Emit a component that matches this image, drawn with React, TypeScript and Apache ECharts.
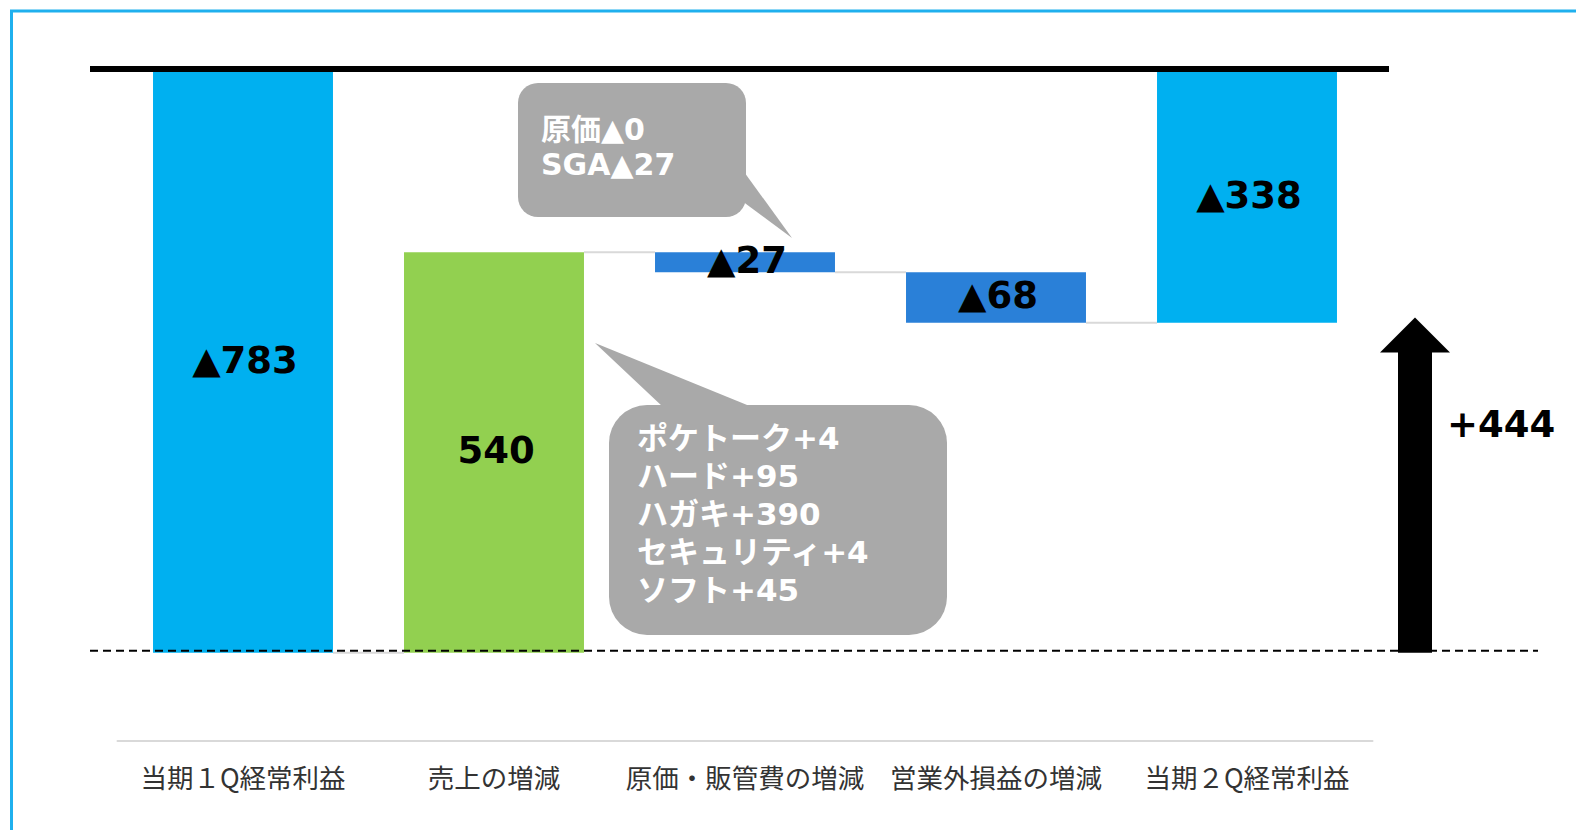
import React, { useEffect, useRef } from "react";
import * as echarts from "echarts";

const categories = ["当期１Q経常利益", "売上の増減", "原価・販管費の増減", "営業外損益の増減", "当期２Q経常利益"];
const barValues = [-783, 540, -27, -68, -338];
const barKinds = ["total", "delta", "delta", "delta", "total"];
const barColors = ["#00B0F0", "#92D050", "#2A80D8", "#2A80D8", "#00B0F0"];
const improvement = 444;
const callout1Lines = ["原価▲0", "SGA▲27"];
const callout2Lines = ["ポケトーク+4", "ハード+95", "ハガキ+390", "セキュリティ+4", "ソフト+45"];

const BAR_RATIO = 0.717;
const LABEL_FONT = "'DejaVu Sans', 'Noto Sans CJK JP', sans-serif";

function buildWaterfall() {
  const base: number[] = [];
  const visible: number[] = [];
  const levels: number[] = [];
  let running = 0;
  barValues.forEach((v, i) => {
    if (barKinds[i] === "total") {
      base.push(0);
      visible.push(v);
      running = v;
    } else {
      const next = running + v;
      const high = Math.max(running, next);
      const low = Math.min(running, next);
      base.push(high);
      visible.push(low - high);
      running = next;
    }
    levels.push(running);
  });
  return { base, visible, levels };
}

export default function App() {
  const ref = useRef<HTMLDivElement>(null);
  useEffect(() => {
    document.body.style.margin = "0";
    const chart = echarts.init(ref.current!, null, { renderer: "svg" });
    const { base, visible, levels } = buildWaterfall();
    const connectorData = levels.slice(0, levels.length - 1).map((lv, i) => [i, lv]);

    chart.setOption({
      animation: false,
      backgroundColor: "#FFFFFF",
      grid: { left: 117.5, right: 203.5, top: 72, bottom: 89, containLabel: false },
      xAxis: {
        type: "category",
        data: categories,
        axisLine: { show: true, onZero: false, lineStyle: { color: "#D9D9D9", width: 2 } },
        axisTick: { show: false },
        axisLabel: {
          interval: 0,
          fontSize: 26.5,
          color: "#333333",
          margin: 22,
          fontFamily: "'Noto Sans CJK JP', sans-serif",
        },
        splitLine: { show: false },
      },
      yAxis: { type: "value", min: -902, max: 0, show: false, splitLine: { show: false } },
      series: [
        {
          type: "bar",
          stack: "wf",
          data: base,
          barWidth: BAR_RATIO * 100 + "%",
          itemStyle: { color: "transparent" },
          silent: true,
        },
        {
          type: "bar",
          stack: "wf",
          barWidth: BAR_RATIO * 100 + "%",
          data: visible.map((v, i) => ({ value: v, itemStyle: { color: barColors[i] } })),
          label: {
            show: true,
            position: "inside",
            fontSize: 37,
            fontWeight: "bold",
            color: "#000000",
            fontFamily: LABEL_FONT,
            offset: [2, -2],
            formatter: (p: any) => {
              const v = barValues[p.dataIndex];
              return v < 0 ? "▲" + Math.abs(v) : String(v);
            },
          },
        },
        {
          type: "custom",
          data: connectorData,
          z: 1,
          silent: true,
          renderItem: (params: any, api: any) => {
            const idx = api.value(0);
            const lv = api.value(1);
            const p0 = api.coord([idx, lv]);
            const p1 = api.coord([idx + 1, lv]);
            const half = (api.size([1, 0])[0] * BAR_RATIO) / 2;
            return {
              type: "line",
              shape: { x1: p0[0] + half, y1: p0[1], x2: p1[0] - half, y2: p0[1] },
              style: { stroke: "#D9D9D9", lineWidth: 2 },
            };
          },
        },
      ],
    });

    const y0 = chart.convertToPixel({ yAxisIndex: 0 }, 0) as number;
    const yStart = chart.convertToPixel({ yAxisIndex: 0 }, barValues[0]) as number;
    const yTip = (chart.convertToPixel({ yAxisIndex: 0 }, barValues[0] + improvement) as number) - 6;

    const arrowCx = 1415;
    const shaftHalf = 17;
    const headHalf = 35;
    const headH = 35;

    chart.setOption({
      graphic: [
        {
          type: "rect",
          shape: { x: 11.5, y: 11, width: 1700, height: 1000 },
          style: { fill: "none", stroke: "#1FB0EE", lineWidth: 3 },
          z: 100,
          silent: true,
        },
        {
          type: "line",
          shape: { x1: 90, y1: y0 - 3, x2: 1389, y2: y0 - 3 },
          style: { stroke: "#000000", lineWidth: 6 },
          z: 100,
        },
        {
          type: "line",
          shape: { x1: 90, y1: yStart - 2, x2: 1538, y2: yStart - 2 },
          style: { stroke: "#000000", lineWidth: 2, lineDash: [8, 5] },
          z: 100,
        },
        {
          type: "polygon",
          shape: {
            points: [
              [arrowCx - shaftHalf, yStart],
              [arrowCx - shaftHalf, yTip + headH],
              [arrowCx - headHalf, yTip + headH],
              [arrowCx, yTip],
              [arrowCx + headHalf, yTip + headH],
              [arrowCx + shaftHalf, yTip + headH],
              [arrowCx + shaftHalf, yStart],
            ],
          },
          style: { fill: "#000000" },
          z: 101,
        },
        {
          type: "text",
          x: 1447,
          y: 424,
          style: {
            text: "+" + improvement,
            fontSize: 37,
            fontWeight: "bold",
            fill: "#000000",
            fontFamily: LABEL_FONT,
            textVerticalAlign: "middle",
          },
          z: 101,
        },
        // callout 1
        {
          type: "polygon",
          shape: { points: [[734, 158], [792, 238], [738, 198]] },
          style: { fill: "#A9A9A9" },
          z: 102,
        },
        {
          type: "rect",
          shape: { x: 518, y: 83, width: 228, height: 134, r: 20 },
          style: { fill: "#A9A9A9" },
          z: 102,
        },
        {
          type: "text",
          x: 541,
          y: 111.5,
          style: {
            text: callout1Lines.join("\n"),
            fontSize: 30,
            lineHeight: 35,
            fontWeight: "bold",
            fill: "#FFFFFF",
            fontFamily: LABEL_FONT,
          },
          z: 103,
        },
        // callout 2
        {
          type: "polygon",
          shape: { points: [[663, 407], [595, 343], [752, 407]] },
          style: { fill: "#A9A9A9" },
          z: 102,
        },
        {
          type: "rect",
          shape: { x: 609, y: 405, width: 338, height: 230, r: 38 },
          style: { fill: "#A9A9A9" },
          z: 102,
        },
        {
          type: "text",
          x: 637,
          y: 419,
          style: {
            text: callout2Lines.join("\n"),
            fontSize: 31,
            lineHeight: 38,
            fontWeight: "bold",
            fill: "#FFFFFF",
            fontFamily: LABEL_FONT,
          },
          z: 103,
        },
      ],
    });

    return () => chart.dispose();
  }, []);

  return <div ref={ref} style={{ position: "absolute", left: 0, top: 0, width: 1576, height: 830 }} />;
}
